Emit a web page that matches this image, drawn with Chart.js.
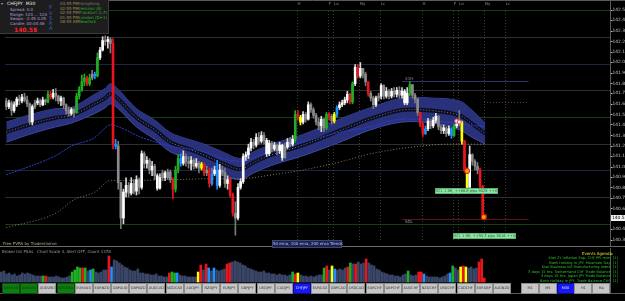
<!DOCTYPE html>
<html><head><meta charset="utf-8">
<script src="https://cdn.jsdelivr.net/npm/chart.js@4.4.0/dist/chart.umd.min.js"></script>
<style>
html,body{margin:0;padding:0;background:#000;width:625px;height:301px;overflow:hidden;font-family:"DejaVu Sans",Arial,sans-serif;}
#wrap{position:relative;width:625px;height:301px;background:#000;}
canvas{position:absolute;left:0;display:block;}
#main{top:0;}
#vol{top:248px;}
.t{position:absolute;white-space:nowrap;line-height:1;font-size:4px;z-index:5;}
.ev{position:absolute;white-space:nowrap;line-height:1;font-size:3.6px;z-index:5;right:7px;color:#2cc22c;text-align:right;}
.btn{position:absolute;top:283px;width:16px;height:9px;background:#c6c6c6;border:1px solid #8c8c8c;color:#333;font-size:3.5px;line-height:9px;text-align:center;z-index:5;overflow:hidden;}
.btn.g{background:#0f7d12;border-color:#0a4d0a;color:#063a08;}
.btn.b{background:#1717f5;border-color:#0a0a90;color:#e8e8ff;}
#info{position:absolute;left:0;top:0;width:108px;height:33px;background:#1d1d1d;border-right:1px solid #3c3c3c;border-bottom:1px solid #3c3c3c;z-index:4;}
</style></head>
<body><div id="wrap">
<canvas id="main" width="625" height="247" style="width:625px;height:247px"></canvas>
<canvas id="vol" width="625" height="53" style="width:625px;height:53px"></canvas>
<div id="info"></div>
<div class="t" style="left:1px;top:2px;color:#aaa;">&#9662;</div>
<div class="t" style="left:7px;top:2px;color:#e8e8e8;font-size:4.5px;">CHFJPY&nbsp;&nbsp;M30</div>
<div class="t" style="left:10px;top:8px;color:#b39ddb;">Spread: 0.0</div>
<div class="t" style="left:10px;top:13px;color:#b39ddb;">Range: 120 ... 120</div>
<div class="t" style="left:10px;top:17px;color:#b39ddb;">Swaps: -2.45 0.05</div>
<div class="t" style="left:10px;top:22px;color:#b39ddb;">Candle: 00:04:46</div>
<div class="t" style="left:14px;top:26.5px;color:#ff1f2f;font-size:6px;font-weight:bold;">140.55</div>
<div class="t" style="left:34px;top:28px;color:#ff1f2f;">8</div>
<div class="t" style="left:49px;top:5px;color:#3d5fc8;font-size:5px;">P</div>
<div class="t" style="left:49px;top:11px;color:#3d5fc8;font-size:5px;">V</div>
<div class="t" style="left:49px;top:16px;color:#3d5fc8;font-size:5px;">S</div>
<div class="t" style="left:49px;top:21px;color:#3d5fc8;font-size:5px;">R</div>
<div class="t" style="left:49px;top:26px;color:#3d5fc8;font-size:5px;">A</div>
<div class="t" style="left:60px;top:2px;color:#a08a58;">03:55 PM</div>
<div class="t" style="left:60px;top:7px;color:#a08a58;">02:55 PM</div>
<div class="t" style="left:60px;top:11px;color:#a08a58;">02:55 PM</div>
<div class="t" style="left:60px;top:16px;color:#a08a58;">01:55 PM</div>
<div class="t" style="left:60px;top:20px;color:#a08a58;">08:55 AM</div>
<div class="t" style="left:79px;top:2px;color:#7a7a7a;">HongKong</div>
<div class="t" style="left:79px;top:7px;color:#2fae2f;">Helsinki (8)</div>
<div class="t" style="left:79px;top:11px;color:#2fae2f;">Frankfurt (L,F)</div>
<div class="t" style="left:79px;top:16px;color:#2fae2f;">London (D+1)</div>
<div class="t" style="left:79px;top:20px;color:#2fae2f;">NewYork</div>
<div class="t" style="left:3px;top:242px;color:#b8a98a;">Free PVRA by Tradershome</div>
<div class="t" style="left:272px;top:240px;width:68px;height:6px;background:#1c2452;border:1px solid #3b4580;color:#b9c0e8;text-align:center;line-height:6px;">50 ema, 100 ema, 200 ema Trends</div>
<div class="t" style="left:2px;top:250px;color:#9a9a9a;">Broker list PSAs&nbsp;&nbsp;&nbsp;Chart Scale 3, Alert OFF, Count 1378</div>
<div class="t" style="left:582px;top:252px;color:#e8e020;">Events Agenda:</div>
<div class="ev" style="top:257px;">Kiwi 2Y Inflation Exp; CHF PPI m/m&nbsp;&nbsp;[1]</div>
<div class="ev" style="top:261.5px;">Bank Holiday in JPY: Mountain Day&nbsp;&nbsp;[1]</div>
<div class="ev" style="top:266px;">Kiwi Business NZ Manufacturing Index&nbsp;&nbsp;[1]</div>
<div class="ev" style="top:270.5px;">3 days 15 hrs: Switzerland CHF Trade Balance&nbsp;&nbsp;[1]</div>
<div class="ev" style="top:275px;">3 days 19 hrs: Japan JPY Trade Balance&nbsp;&nbsp;[1]</div>
<div class="ev" style="top:279.5px;">Bank Holiday in JPY; Trade Balance CHF&nbsp;&nbsp;[1]</div>
</div>
<script>
// ---------- DATA ----------
const candleOpen = [141.650,141.596,141.632,141.560,141.614,141.668,141.650,141.686,141.659,141.623,
141.452,141.596,141.632,141.650,141.614,141.659,141.641,141.713,141.686,141.722,
141.695,141.650,141.677,141.614,141.560,141.533,141.569,141.542,141.695,141.758,
141.830,141.866,141.812,141.866,141.902,141.884,142.055,142.127,142.217,142.208,
142.226,142.190,141.245,141.227,140.885,140.552,140.795,140.858,140.786,140.876,
140.804,140.912,140.840,141.155,141.065,141.092,141.002,141.038,140.948,140.831,
140.930,140.975,140.930,140.984,140.912,140.822,141.002,141.110,141.065,141.128,
141.083,141.065,141.092,141.038,141.065,141.020,141.056,140.975,141.002,140.876,
140.966,141.002,140.858,141.002,140.975,140.876,140.912,140.768,140.597,140.552,
140.840,140.894,141.128,141.146,141.209,141.263,141.236,141.308,141.272,141.326,
141.281,141.155,141.254,141.200,141.236,141.182,141.236,141.119,141.218,141.263,
141.245,141.290,141.524,141.497,141.452,141.524,141.479,141.614,141.569,141.515,
141.452,141.416,141.479,141.398,141.524,141.506,141.461,141.524,141.587,141.614,
141.632,141.659,141.713,141.641,141.812,141.965,141.884,141.956,141.902,141.830,
141.722,141.677,141.614,141.677,141.695,141.794,141.695,141.740,141.695,141.740,
141.713,141.749,141.704,141.740,141.632,141.722,141.803,141.704,141.668,141.542,
141.434,141.344,141.389,141.461,141.416,141.470,141.506,141.407,141.371,141.398,
141.344,141.389,141.326,141.416,141.434,141.452,141.272,141.002,140.840,141.146,
141.083,141.038,141.002,140.849,140.579];
const candleHigh = [141.677,141.659,141.650,141.641,141.686,141.704,141.713,141.722,141.695,141.632,
141.614,141.659,141.677,141.668,141.686,141.668,141.740,141.740,141.758,141.767,
141.704,141.695,141.686,141.623,141.596,141.587,141.578,141.722,141.785,141.893,
141.902,141.884,141.902,141.938,141.920,142.100,142.154,142.253,142.262,142.253,
142.244,142.235,141.290,141.272,140.885,140.822,140.930,140.885,140.930,140.912,
140.948,140.930,141.182,141.173,141.128,141.110,141.083,141.056,140.966,140.966,
141.002,140.993,141.011,141.002,140.930,141.038,141.146,141.155,141.182,141.155,
141.128,141.128,141.110,141.110,141.083,141.074,141.065,141.038,141.020,141.020,
141.038,141.092,141.056,141.038,141.020,140.948,140.930,140.786,140.705,140.876,
140.921,141.155,141.173,141.245,141.299,141.290,141.344,141.353,141.362,141.353,
141.299,141.281,141.272,141.263,141.245,141.263,141.245,141.254,141.299,141.308,
141.326,141.560,141.560,141.515,141.551,141.542,141.641,141.632,141.587,141.533,
141.488,141.506,141.488,141.542,141.542,141.524,141.542,141.605,141.641,141.659,
141.686,141.740,141.722,141.830,141.992,141.992,142.010,141.956,141.920,141.830,
141.740,141.695,141.695,141.722,141.812,141.803,141.776,141.758,141.767,141.776,
141.776,141.785,141.776,141.758,141.776,141.830,141.803,141.722,141.677,141.542,
141.452,141.416,141.488,141.479,141.497,141.533,141.515,141.425,141.425,141.407,
141.416,141.398,141.434,141.470,141.560,141.461,141.281,141.020,141.227,141.155,
141.101,141.074,141.020,140.858,140.588];
const candleLow = [141.569,141.578,141.515,141.542,141.596,141.614,141.632,141.641,141.596,141.434,
141.425,141.578,141.614,141.596,141.605,141.614,141.632,141.668,141.668,141.650,
141.623,141.605,141.578,141.524,141.506,141.515,141.497,141.533,141.668,141.740,
141.794,141.794,141.794,141.848,141.857,141.875,142.037,142.118,142.172,142.145,
142.100,141.200,141.200,140.822,140.453,140.498,140.750,140.750,140.768,140.777,
140.768,140.777,140.822,141.020,141.020,140.966,140.948,140.912,140.813,140.822,
140.903,140.903,140.912,140.885,140.732,140.795,140.975,141.038,141.047,141.038,
141.020,141.002,141.011,141.020,140.975,141.002,140.948,140.948,140.840,140.858,
140.948,140.822,140.840,140.948,140.840,140.822,140.750,140.570,140.390,140.534,
140.822,140.876,141.092,141.110,141.182,141.200,141.218,141.245,141.254,141.245,
141.128,141.137,141.173,141.182,141.146,141.155,141.092,141.110,141.200,141.218,
141.227,141.263,141.470,141.425,141.434,141.452,141.470,141.542,141.488,141.425,
141.380,141.362,141.362,141.380,141.470,141.434,141.443,141.497,141.569,141.596,
141.614,141.632,141.623,141.623,141.794,141.866,141.866,141.866,141.794,141.695,
141.650,141.578,141.596,141.650,141.668,141.668,141.677,141.668,141.677,141.686,
141.686,141.677,141.677,141.614,141.614,141.695,141.677,141.632,141.515,141.407,
141.317,141.335,141.371,141.389,141.398,141.443,141.380,141.344,141.344,141.317,
141.326,141.299,141.317,141.398,141.416,141.245,140.984,140.822,140.840,141.047,
141.002,140.966,140.822,140.552,140.534];
const candleClose = [141.596,141.632,141.560,141.614,141.668,141.650,141.686,141.659,141.623,141.452,
141.596,141.632,141.650,141.614,141.659,141.641,141.713,141.686,141.722,141.695,
141.650,141.677,141.614,141.560,141.533,141.569,141.542,141.695,141.758,141.830,
141.866,141.812,141.866,141.902,141.884,142.055,142.127,142.217,142.208,142.226,
142.190,141.245,141.227,140.885,140.552,140.795,140.858,140.786,140.876,140.804,
140.912,140.840,141.155,141.065,141.092,141.002,141.038,140.948,140.831,140.930,
140.975,140.930,140.984,140.912,140.822,141.002,141.110,141.065,141.128,141.083,
141.065,141.092,141.038,141.065,141.020,141.056,140.975,141.002,140.876,140.966,
141.002,140.858,141.002,140.975,140.876,140.912,140.768,140.597,140.552,140.840,
140.894,141.128,141.146,141.209,141.263,141.236,141.308,141.272,141.326,141.281,
141.155,141.254,141.200,141.236,141.182,141.236,141.119,141.218,141.263,141.245,
141.290,141.524,141.497,141.452,141.524,141.479,141.614,141.569,141.515,141.452,
141.416,141.479,141.398,141.524,141.506,141.461,141.524,141.587,141.614,141.632,
141.659,141.713,141.641,141.812,141.965,141.884,141.956,141.902,141.830,141.722,
141.677,141.614,141.677,141.695,141.794,141.695,141.740,141.695,141.740,141.713,
141.749,141.704,141.740,141.632,141.722,141.803,141.704,141.668,141.542,141.434,
141.344,141.389,141.461,141.416,141.470,141.506,141.407,141.371,141.398,141.344,
141.389,141.326,141.416,141.434,141.452,141.272,141.002,140.840,141.146,141.083,
141.038,141.002,140.849,140.579,140.543];
// PVSRA class per candle: u/d normal, g/r climax, b/y rising volume
const candleClass = ("duduududdd"+"udududgrud"+"dudddudggg"+"grgdbguudu"+"drbdduudud"+
  "ududududuu"+"duddrggbud"+"dududyrdrb"+"ubuddurrdu"+"uuuuududud"+
  "uududuudud"+"ugryududdd"+"dudgrdybuu"+"uurguruddr"+"ddudududud"+
  "uduuugdddr"+"rbuduuddud"+"ubgudyryud"+"ddrrr").split('');
const tickVolume = [10,11,8,9,7,8,6,7,9,8, 9,8,7,6,6,6,6,6,5,5, 5,6,5,4,4,5,6,10,12,15,
 14,14,14,11,12,13,10,9,10,12, 12,26,15,22,21,19,17,15,14,12, 11,11,13,9,9,8,8,7,7,8,
 6,6,5,5,9,10,9,9,7,6, 6,5,5,5,5,10,17,12,18,14, 11,14,12,11,12,13,18,19,20,21,
 20,19,17,16,14,13,12,11,10,10, 11,9,9,8,8,7,8,7,7,6, 7,10,8,9,7,6,6,5,6,5,
 6,7,7,14,16,12,16,13,12,13, 12,14,15,19,18,18,20,18,19,23, 19,17,16,13,12,10,9,8,7,7,
 6,6,5,7,8,11,7,6,7,10, 10,8,6,5,5,5,5,4,5,6, 8,9,16,14,12,15,16,15,14,15, 13,14,20,23,4];
// EMA band (50 ema channel) read at bar indices
const bandIdx = [0,11,19,25,34,38,40,43,50,57,63,70,76,83,90,95,102,114,129,140,152,163,174,179,184];
const bandUpper = [141.452,141.533,141.578,141.587,141.713,141.767,141.812,141.758,141.578,141.470,141.353,141.290,141.245,141.173,141.110,141.173,141.245,141.335,141.488,141.587,141.677,141.677,141.650,141.560,141.443];
const bandLower = [141.263,141.353,141.407,141.443,141.533,141.587,141.623,141.578,141.407,141.290,141.173,141.110,141.038,140.957,140.912,140.975,141.047,141.137,141.272,141.380,141.452,141.443,141.380,141.308,141.245];
const bandMid = [141.358,141.443,141.493,141.515,141.623,141.677,141.718,141.668,141.493,141.380,141.263,141.200,141.142,141.065,141.011,141.074,141.146,141.236,141.380,141.484,141.565,141.560,141.515,141.434,141.344];
const ema100Idx = [0,19,25,34,38,40,44,51,63,76,83,90,99,114,129,140,152,163,175,184];
const ema100 = [140.957,141.137,141.227,141.308,141.398,141.425,141.398,141.317,141.227,141.173,141.110,141.083,141.155,141.263,141.362,141.407,141.479,141.470,141.434,141.407];
const ema200Idx = [0,19,26,34,40,45,64,80,90,102,114,129,140,156,171,184];
const ema200 = [140.462,140.597,140.723,140.795,140.903,140.903,140.912,140.921,140.921,140.957,141.002,141.083,141.155,141.218,141.245,141.245];
// price axis
const priceTicks = [142.505,142.410,142.310,142.210,142.110,142.015,141.915,141.815,141.725,141.625,141.525,141.430,141.330,141.230,141.135,141.035,140.940,140.840,140.740,140.645,140.450,140.350];
const currentPrice = 140.550;
const roundLevels = [142.50,142.25,142.00,141.75,141.50,141.25,141.00,140.75,140.50];
const roundKind = ['g','k','b','k','g','k','b','k','g'];
// session markers (bar index)
const sessionIdx = [111.5,123.5,125.5,135.5,143.5,159.5,171.5,173.5,183.5,191.5];
const sessionLbl = ['H','F','Lo','Ny','Lc','H','F','Lo','Ny','Lc'];
// drawn objects
const objFrom = [152,183.5,152];
const objTo = [200.6,200.6,200.6];
const objPrice = [141.840,141.641,140.543];
const objLabel = ['X1H','','SDL'];
// signal markers
const pinIdx = [173,174];
const pinPrice = [141.461,141.452];
const dotIdx = [177,183.4];
const dotPrice = [140.993,140.561];
// trade labels
const tagIdx = [164.8,171.7];
const tagPrice = [140.803,140.380];
const tagText = ['SCL 1 BR, ++66.8 pips 8028 ++0','SCL 1 BR, ++95.3 pips 8016 ++0'];
// time axis
const timeTickIdx = [0,7,15,23,31,39,47,55,63,71,79,87,95,103,111,119,127,135,143,151,159,167,175,183];
const timeTickText = ['9 Aug 2021','9 Aug 23:00','10 Aug 03:00','10 Aug 07:00','10 Aug 11:00','10 Aug 15:00','10 Aug 19:00','10 Aug 23:00','11 Aug 03:00','11 Aug 07:00','11 Aug 11:00','11 Aug 15:00','11 Aug 19:00','11 Aug 23:00','12 Aug 03:00','12 Aug 07:00','12 Aug 11:00','12 Aug 15:00','12 Aug 19:00','12 Aug 23:00','13 Aug 03:00','13 Aug 07:00','13 Aug 11:00','13 Aug 15:00'];
// buttons
const pairs = ['GBPUSD','EURUSD','AUDUSD','NZDUSD','EURAUD','EURNZD','GBPAUD','GBPNZD','AUDCAD','NZDCAD','AUDJPY','NZDJPY','EURJPY','GBPJPY','USDJPY','CADJPY','CHFJPY','EURCAD','GBPCAD','USDCAD','EURCHF','GBPCHF','AUDCHF','NZDCHF','USDCHF','CADCHF','EURGBP','AUDNZD'];
const pairState = {GBPUSD:'g',EURUSD:'g',NZDUSD:'g',CHFJPY:'b'};
const periods = ['M1','M5','M30','H1','H4'];
const periodState = {M30:'b'};

// ---------- RENDER ----------
const X_MIN = -0.5, X_MAX = 231.9;
const candleCol = {u:'#ffffff',d:'#8b8b8b',g:'#1faf22',r:'#e8151d',b:'#1e90ff',y:'#ffff00'};
const wickCol = {u:'#d8d8d8',d:'#7a7a7a',g:'#1faf22',r:'#e8151d',b:'#1e90ff',y:'#ffff00'};
const volCol = {u:'#3a4668',d:'#3a4668',g:'#1faf22',r:'#e8151d',b:'#1e90ff',y:'#ffff00'};
const levelCol = {g:'#173d17',k:'#2e2e2e',b:'#1b2548'};
const idx = candleClose.map((_,i)=>i);
const pts = (ix, arr) => ix.map((x,k)=>({x, y:arr[k]}));
const FONT = '"DejaVu Sans", Arial, sans-serif';

const mainPlugin = {
  id:'mainPlugin',
  beforeDatasetsDraw(chart){
    const {ctx, chartArea:a, scales:{x,y}} = chart;
    ctx.save();
    ctx.lineWidth = 1;
    roundLevels.forEach((v,k)=>{
      const py = Math.round(y.getPixelForValue(v))+0.5;
      ctx.strokeStyle = levelCol[roundKind[k]];
      ctx.beginPath(); ctx.moveTo(a.left,py); ctx.lineTo(a.right,py); ctx.stroke();
    });
    ctx.setLineDash([1,2]); ctx.strokeStyle = '#3a3a3a';
    sessionIdx.forEach(v=>{
      const px = Math.round(x.getPixelForValue(v))+0.5;
      ctx.beginPath(); ctx.moveTo(px,a.top+6); ctx.lineTo(px,a.bottom); ctx.stroke();
    });
    ctx.setLineDash([]);
    ctx.font = '4px '+FONT; ctx.fillStyle = '#8d8d8d'; ctx.textBaseline = 'top';
    sessionIdx.forEach((v,k)=>ctx.fillText(sessionLbl[k], x.getPixelForValue(v)+1, 1.5));
    const oc = ['#2c3568','#6b2c55','#5c1818'];
    objPrice.forEach((p,k)=>{
      const py = Math.round(y.getPixelForValue(p))+0.5;
      ctx.strokeStyle = oc[k];
      ctx.setLineDash(k===1?[1,2]:[]);
      ctx.beginPath(); ctx.moveTo(x.getPixelForValue(objFrom[k]),py); ctx.lineTo(x.getPixelForValue(objTo[k]),py); ctx.stroke();
      if(objLabel[k]){ ctx.fillStyle='#9a9a9a'; ctx.fillText(objLabel[k], x.getPixelForValue(objFrom[k])+3, k===0?py-4.5:py+0.5); }
    });
    ctx.restore();
  },
  afterDatasetsDraw(chart){
    const {ctx, scales:{x,y}} = chart;
    ctx.save();
    ctx.font = '3.6px '+FONT; ctx.textBaseline = 'middle'; ctx.textAlign='center';
    tagIdx.forEach((v,k)=>{
      const px = Math.round(x.getPixelForValue(v)), py = Math.round(y.getPixelForValue(tagPrice[k]));
      ctx.fillStyle='#8fe3a4'; ctx.fillRect(px,py-3,63,6);
      ctx.strokeStyle='#5fb376'; ctx.strokeRect(px+0.5,py-2.5,62,5);
      ctx.fillStyle='#1d6a34'; ctx.fillText(tagText[k], px+31.5, py+0.3);
    });
    ctx.restore();
  },
  afterDraw(chart){
    const {ctx, chartArea:a, scales:{y}} = chart;
    ctx.save();
    ctx.strokeStyle='#5a5a5a'; ctx.lineWidth=1;
    ctx.beginPath(); ctx.moveTo(0,0.5); ctx.lineTo(625,0.5); ctx.stroke();
    ctx.beginPath(); ctx.moveTo(a.right+0.5,0); ctx.lineTo(a.right+0.5,247); ctx.stroke();
    ctx.strokeStyle='#6a6a6a';
    ctx.beginPath(); ctx.moveTo(0,246.5); ctx.lineTo(625,246.5); ctx.stroke();
    // price scale labels
    ctx.font='4.4px '+FONT; ctx.textBaseline='middle'; ctx.textAlign='left';
    ctx.fillStyle='#c4c4c4';
    priceTicks.forEach(v=>{
      const py = y.getPixelForValue(v);
      ctx.fillRect(a.right+1, Math.round(py), 1.5, 1);
      ctx.fillText(v.toFixed(3), a.right+2.5, py+0.3);
    });
    const py = Math.round(y.getPixelForValue(currentPrice));
    ctx.fillStyle='#f2f2f2'; ctx.fillRect(a.right+1,py-3,14,6);
    ctx.fillStyle='#000';
    ctx.fillText(currentPrice.toFixed(3), a.right+2, py+0.3);
    ctx.restore();
  }
};

new Chart(document.getElementById('main'), {
  type:'bar',
  data:{datasets:[
    {type:'line', data:pts(bandIdx,bandUpper), borderColor:'#3d49aa', borderWidth:1, pointRadius:0, tension:0.35, fill:false, order:30},
    {type:'line', data:pts(bandIdx,bandLower), borderColor:'#3d49aa', borderWidth:1, pointRadius:0, tension:0.35, fill:'-1', backgroundColor:'#29317a', order:29},
    {type:'line', data:pts(bandIdx,bandMid), borderColor:'#0b0d24', borderWidth:4, pointRadius:0, tension:0.35, order:28},
    {type:'line', data:pts(bandIdx,bandMid), borderColor:'#777', borderWidth:1, borderDash:[1,2], pointRadius:0, tension:0.35, order:27},
    {type:'line', data:pts(ema100Idx,ema100), borderColor:'#2b3fd0', borderWidth:1, borderDash:[2,1], pointRadius:0, cubicInterpolationMode:'monotone', order:26},
    {type:'line', data:pts(ema200Idx,ema200), borderColor:'#8c7b4f', borderWidth:1, borderDash:[1,2], pointRadius:0, cubicInterpolationMode:'monotone', order:25},
    {data:idx.map(i=>({x:i,y:[candleLow[i],candleHigh[i]]})), backgroundColor:idx.map(i=>wickCol[candleClass[i]]), barThickness:1, grouped:false, order:6},
    {data:idx.map(i=>({x:i,y:[candleOpen[i],candleClose[i]]})), backgroundColor:idx.map(i=>candleCol[candleClass[i]]), barThickness:2, minBarLength:1, grouped:false, order:5},
    {type:'line', data:pts(pinIdx,pinPrice), showLine:false, pointRadius:2, pointBackgroundColor:'#ffe4e4', pointBorderColor:'#e0506a', pointBorderWidth:1, order:2},
    {type:'line', data:pts(dotIdx,dotPrice), showLine:false, pointRadius:2.5, pointBackgroundColor:'#ff9c00', pointBorderColor:'#e01010', pointBorderWidth:1, order:1}
  ]},
  options:{
    responsive:false, animation:false, devicePixelRatio:1,
    layout:{padding:0},
    plugins:{legend:{display:false}, tooltip:{enabled:false}},
    scales:{
      x:{type:'linear', min:X_MIN, max:X_MAX, display:false, offset:false},
      y:{position:'right', min:140.327, max:142.55, grid:{display:false}, border:{display:false},
         ticks:{display:false},
         afterBuildTicks:s=>{s.ticks = priceTicks.map(v=>({value:v}));},
         afterFit:s=>{s.width=15; s.paddingTop=0; s.paddingBottom=0;}}
    }
  },
  plugins:[mainPlugin]
});

const volPlugin = {
  id:'volPlugin',
  afterDraw(chart){
    const {ctx, chartArea:a} = chart;
    ctx.save();
    ctx.strokeStyle='#5a5a5a'; ctx.lineWidth=1;
    ctx.beginPath(); ctx.moveTo(a.right+0.5,0); ctx.lineTo(a.right+0.5,a.bottom); ctx.stroke();
    ctx.beginPath(); ctx.moveTo(0,a.bottom+0.5); ctx.lineTo(625,a.bottom+0.5); ctx.stroke();
    ctx.restore();
  }
};

new Chart(document.getElementById('vol'), {
  type:'bar',
  data:{datasets:[
    {data:idx.map(i=>({x:i,y:tickVolume[i]})), backgroundColor:idx.map(i=>volCol[candleClass[i]]), barThickness:2, grouped:false}
  ]},
  options:{
    responsive:false, animation:false, devicePixelRatio:1,
    layout:{padding:0},
    plugins:{legend:{display:false}, tooltip:{enabled:false}},
    scales:{
      x:{type:'linear', min:X_MIN, max:X_MAX, offset:false, grid:{display:false}, border:{display:false},
         ticks:{color:'#c8c8c8', font:{size:4, family:FONT}, maxRotation:0, autoSkip:false, align:'start', padding:1,
                callback:v=>{const k=timeTickIdx.indexOf(v); return k>=0?timeTickText[k]:'';}},
         afterBuildTicks:s=>{s.ticks = timeTickIdx.map(v=>({value:v}));},
         afterFit:s=>{s.height=8; s.paddingLeft=0; s.paddingRight=0;}},
      y:{position:'right', min:-11, max:34, grid:{display:false}, border:{display:false},
         ticks:{display:false}, afterFit:s=>{s.width=15; s.paddingTop=0; s.paddingBottom=0;}}
    }
  },
  plugins:[volPlugin]
});

// buttons
const wrap = document.getElementById('wrap');
pairs.forEach((p,k)=>{
  const d=document.createElement('div');
  d.className='btn '+(pairState[p]||'');
  d.style.left=(2+k*18.18)+'px'; d.textContent=p; wrap.appendChild(d);
});
periods.forEach((p,k)=>{
  const d=document.createElement('div');
  d.className='btn '+(periodState[p]||'');
  d.style.left=(521+k*17.8)+'px'; d.textContent=p; wrap.appendChild(d);
});
</script>
</body></html>
